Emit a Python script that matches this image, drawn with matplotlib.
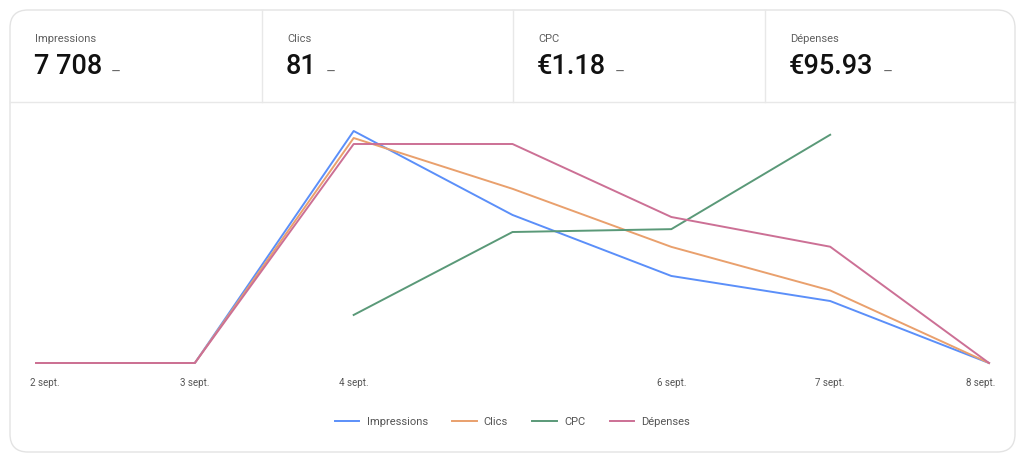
import numpy as np
from matplotlib import pyplot as plt
from matplotlib.patches import FancyBboxPatch
from matplotlib.transforms import ScaledTranslation

plt.rcParams['font.family'] = ['Roboto', 'DejaVu Sans']

# KPI cards
kpi_names  = ["Impressions", "Clics", "CPC", "Dépenses"]
kpi_values = ["7\u202f708", "81", "€1.18", "€95.93"]

# daily series
days        = ["2 sept.", "3 sept.", "4 sept.", "5 sept.", "6 sept.", "7 sept.", "8 sept."]
day_labels  = ["2 sept.", "3 sept.", "4 sept.", "", "6 sept.", "7 sept.", "8 sept."]
impressions = [0, 0, 3380, 2157, 1268, 903, 0]
clics       = [0, 0, 31, 24, 16, 10, 0]
cpc         = [np.nan, np.nan, 0.96, 1.25, 1.26, 1.59, np.nan]
depenses    = [0, 0, 30, 30, 20, 15.93, 0]

colors = {"Impressions": "#5b8ff9", "Clics": "#e9a06d",
          "CPC": "#5a9978", "Dépenses": "#cc7095"}

W, H = 1024, 458
fig = plt.figure(figsize=(W / 100, H / 100), dpi=100)

# background layer in pixel coords
bg = fig.add_axes([0, 0, 1, 1], zorder=0)
bg.set_xlim(0, W)
bg.set_ylim(H, 0)
bg.axis("off")
card = FancyBboxPatch((10, 10), 1005, 442, boxstyle="round,pad=0,rounding_size=18",
                      facecolor="white", edgecolor="#e3e3e3", linewidth=1.0)
bg.add_patch(card)
bg.plot([10, 1015], [102, 102], color="#e8e8e8", lw=1.0)
for xd in [262, 513, 765]:
    bg.plot([xd, xd], [10, 102], color="#e8e8e8", lw=1.0)

cell_x = [35, 287, 538, 790]
for x0, name, val in zip(cell_x, kpi_names, kpi_values):
    bg.text(x0, 39, name, fontsize=8, color="#5f5f5f", va="center", ha="left")
    t = bg.text(x0 - 1, 67, val, fontsize=19.5, fontweight="medium", color="#111111",
                va="center", ha="left")
    fig.canvas.draw()
    bb = t.get_window_extent()
    bg.text(bb.x1 + 9, 73, "–", fontsize=11, color="#666666", va="center", ha="left")

# chart, each series on its own hidden scale
x = np.arange(len(days))
left, right, bottom, top = 36, 989, 363, 123
rect = [left / W, 1 - bottom / H, (right - left) / W, (bottom - top) / H]

ax = fig.add_axes(rect, zorder=2)
ax.patch.set_alpha(0)
series = [("Impressions", impressions, (0, 3380 * 240 / 232)),
          ("Clics", clics, (0, 31 * 240 / 225)),
          ("CPC", cpc, (0.792, 0.792 + 240 / 286)),
          ("Dépenses", depenses, (0, 30 * 240 / 219))]

handles = []
for i, (name, vals, lim) in enumerate(series):
    a = ax if i == 0 else ax.twinx()
    a.patch.set_alpha(0)
    ln, = a.plot(x, vals, color=colors[name], lw=1.4, label=name, clip_on=False)
    handles.append(ln)
    a.set_ylim(*lim)
    a.set_xlim(0, len(days) - 1)
    a.set_yticks([])
    for s in a.spines.values():
        s.set_visible(False)

ax.set_xticks(x)
ax.set_xticklabels(day_labels, fontsize=7, color="#555555")
ax.tick_params(axis="x", length=0, pad=11)
labs = ax.get_xticklabels()
labs[0].set_transform(labs[0].get_transform() + ScaledTranslation(0.09, 0, fig.dpi_scale_trans))
labs[-1].set_transform(labs[-1].get_transform() + ScaledTranslation(-0.08, 0, fig.dpi_scale_trans))

fig.legend(handles=handles, loc="center", bbox_to_anchor=(512.5 / W, 1 - 422 / H),
           ncol=4, frameon=False, fontsize=8, labelcolor="#555555",
           handlelength=2.2, handletextpad=0.65, columnspacing=2.2)

fig.savefig("out.png", dpi=100)
